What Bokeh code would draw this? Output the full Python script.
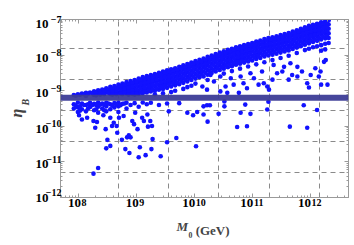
import math
from bokeh.plotting import figure
from bokeh.models import (FixedTicker, LogAxis, Span, Title, ColumnDataSource,
                          CustomJSTickFormatter)
from bokeh.embed import file_html
from bokeh.resources import INLINE

# ---- data (log10 values) ----
# dense region: (log10 M0, [log10 eta_B ...]) per column
dense_cols = [
    (7.92, [-9.12, -9.38, -9.50]),
    (7.99, [-9.10, -9.33, -9.47, -9.60]),
    (8.06, [-9.08, -9.36, -9.52]),
    (8.13, [-9.06, -9.15, -9.40, -9.58]),
    (8.20, [-9.05, -9.34, -9.46]),
    (8.27, [-9.02, -9.12, -9.37, -9.55]),
    (8.34, [-8.99, -9.08, -9.33, -9.45, -9.62]),
    (8.41, [-8.97, -9.06, -9.36, -9.50]),
    (8.48, [-8.93, -9.04, -9.34, -9.44, -9.58]),
    (8.55, [-8.89, -9.00, -9.09, -9.38, -9.52]),
    (8.62, [-8.87, -8.97, -9.07, -9.35, -9.47]),
    (8.69, [-8.83, -8.94, -9.05, -9.33, -9.44, -9.60]),
    (8.76, [-8.80, -8.91, -9.02, -9.10, -9.37]),
    (8.83, [-8.76, -8.87, -8.98, -9.08, -9.34, -9.50]),
    (8.90, [-8.73, -8.84, -8.95, -9.06, -9.40]),
    (8.97, [-8.70, -8.80, -8.92, -9.03, -9.11, -9.35]),
    (9.04, [-8.66, -8.77, -8.88, -9.00, -9.09, -9.45]),
    (9.11, [-8.62, -8.73, -8.85, -8.96, -9.07, -9.33]),
    (9.18, [-8.59, -8.70, -8.82, -8.94, -9.05, -9.38]),
    (9.25, [-8.56, -8.67, -8.78, -8.90, -9.02, -9.34]),
    (9.32, [-8.53, -8.64, -8.75, -8.87, -9.00, -9.10]),
    (9.39, [-8.50, -8.60, -8.72, -8.84, -8.97, -9.40]),
    (9.46, [-8.46, -8.57, -8.69, -8.81, -8.95, -9.07]),
    (9.53, [-8.43, -8.54, -8.66, -8.78, -8.92, -9.36]),
    (9.60, [-8.40, -8.51, -8.63, -8.75, -8.88, -9.04]),
    (9.67, [-8.37, -8.48, -8.60, -8.72, -8.85, -9.00]),
    (9.74, [-8.33, -8.44, -8.56, -8.68, -8.82, -9.35]),
    (9.81, [-8.29, -8.40, -8.52, -8.65, -8.78, -8.95]),
    (9.88, [-8.25, -8.36, -8.48, -8.61, -8.74, -8.90]),
    (9.95, [-8.21, -8.32, -8.44, -8.57, -8.70, -8.86]),
    (10.02, [-8.17, -8.28, -8.40, -8.53, -8.66, -8.80]),
    (10.09, [-8.13, -8.24, -8.36, -8.49, -8.62]),
    (10.16, [-8.10, -8.21, -8.33, -8.46, -8.60]),
    (10.23, [-8.05, -8.17, -8.29, -8.42, -8.55, -8.70]),
    (10.30, [-8.01, -8.12, -8.24, -8.37, -8.50]),
    (10.37, [-7.97, -8.08, -8.20, -8.33, -8.46]),
    (10.44, [-7.93, -8.04, -8.16, -8.29, -8.42]),
    (10.51, [-7.89, -8.00, -8.12, -8.25, -8.38, -8.52]),
    (10.58, [-7.85, -7.96, -8.08, -8.21, -8.34]),
    (10.65, [-7.82, -7.93, -8.05, -8.18, -8.31, -8.45]),
    (10.72, [-7.78, -7.89, -8.01, -8.14, -8.27]),
    (10.79, [-7.75, -7.86, -7.98, -8.11, -8.24, -8.38]),
    (10.86, [-7.72, -7.83, -7.95, -8.08, -8.21]),
    (10.93, [-7.69, -7.80, -7.92, -8.05, -8.18, -8.32]),
    (11.00, [-7.66, -7.77, -7.89, -8.02, -8.15]),
    (11.07, [-7.62, -7.73, -7.85, -7.98, -8.11, -8.26]),
    (11.14, [-7.59, -7.70, -7.82, -7.95, -8.08]),
    (11.21, [-7.55, -7.66, -7.78, -7.91, -8.04, -8.20]),
    (11.28, [-7.52, -7.63, -7.75, -7.88, -8.01]),
    (11.35, [-7.50, -7.61, -7.73, -7.86, -7.99, -8.14]),
    (11.42, [-7.47, -7.58, -7.70, -7.83, -7.96]),
    (11.49, [-7.44, -7.55, -7.67, -7.80, -7.93, -8.08]),
    (11.56, [-7.41, -7.52, -7.64, -7.77, -7.90]),
    (11.63, [-7.38, -7.49, -7.61, -7.74, -7.87, -8.02]),
    (11.70, [-7.34, -7.45, -7.57, -7.70, -7.83]),
    (11.77, [-7.30, -7.41, -7.53, -7.66, -7.79, -7.94]),
    (11.84, [-7.26, -7.37, -7.49, -7.62, -7.75]),
    (11.91, [-7.22, -7.33, -7.45, -7.58, -7.71, -7.86]),
    (11.98, [-7.18, -7.29, -7.41, -7.54, -7.67, -7.82]),
    (12.05, [-7.15, -7.26, -7.38, -7.50, -7.63, -7.78]),
    (12.12, [-7.12, -7.23, -7.35, -7.47, -7.60, -7.75]),
    (12.19, [-7.08, -7.19, -7.31, -7.43, -7.56, -7.72, -7.88]),
    (12.26, [-7.05, -7.16, -7.28, -7.40, -7.53, -7.68, -7.84]),
    (12.32, [-7.03, -7.14, -7.26, -7.39, -7.52, -7.66]),
]
dense_cols2 = [
    (7.955, [-9.14, -9.42]),
    (8.025, [-9.12, -9.44, -9.56]),
    (8.095, [-9.10, -9.40]),
    (8.165, [-9.09, -9.38, -9.50]),
    (8.235, [-9.07, -9.41]),
    (8.305, [-9.05, -9.13, -9.40, -9.52]),
    (8.375, [-9.04, -9.11, -9.39]),
    (8.445, [-9.01, -9.10, -9.40, -9.55]),
    (8.515, [-8.97, -9.06, -9.36]),
    (8.585, [-8.94, -9.03, -9.11, -9.42]),
    (8.655, [-8.91, -9.01, -9.10, -9.38]),
    (8.725, [-8.87, -8.98, -9.08, -9.41]),
    (8.795, [-8.84, -8.95, -9.05, -9.36]),
    (8.865, [-8.81, -8.92, -9.02, -9.11]),
    (8.935, [-8.78, -8.89, -9.00, -9.09]),
    (9.005, [-8.74, -8.85, -8.97, -9.08]),
    (9.075, [-8.70, -8.81, -8.93, -9.05]),
    (9.145, [-8.66, -8.78, -8.90, -9.02]),
    (9.215, [-8.63, -8.75, -8.87, -8.99]),
    (9.285, [-8.60, -8.72, -8.84, -8.96]),
    (9.355, [-8.57, -8.69, -8.81, -8.93]),
    (9.425, [-8.54, -8.65, -8.77, -8.90]),
    (9.495, [-8.50, -8.62, -8.74, -8.86]),
    (9.565, [-8.47, -8.59, -8.71, -8.83]),
    (9.635, [-8.44, -8.56, -8.68, -8.80]),
    (9.705, [-8.41, -8.52, -8.64, -8.77]),
    (9.775, [-8.37, -8.48, -8.60, -8.73]),
    (9.845, [-8.33, -8.44, -8.56, -8.69]),
    (9.915, [-8.29, -8.40, -8.52, -8.65]),
    (9.985, [-8.25, -8.36, -8.48, -8.61]),
    (10.055, [-8.21, -8.32, -8.44, -8.57]),
    (10.125, [-8.17, -8.29, -8.41, -8.54]),
    (10.195, [-8.13, -8.25, -8.37, -8.50]),
    (10.265, [-8.09, -8.20, -8.32, -8.45]),
    (10.335, [-8.05, -8.16, -8.28, -8.41]),
    (10.405, [-8.01, -8.12, -8.24, -8.37]),
    (10.475, [-7.97, -8.08, -8.20, -8.33]),
    (10.545, [-7.93, -8.04, -8.16, -8.29]),
    (10.615, [-7.89, -8.01, -8.13, -8.26]),
    (10.685, [-7.86, -7.97, -8.09, -8.22]),
    (10.755, [-7.82, -7.94, -8.06, -8.19]),
    (10.825, [-7.79, -7.91, -8.03, -8.16]),
    (10.895, [-7.76, -7.88, -8.00, -8.13]),
    (10.965, [-7.73, -7.85, -7.97, -8.10]),
    (11.035, [-7.70, -7.81, -7.93, -8.06]),
    (11.105, [-7.66, -7.78, -7.90, -8.03]),
    (11.175, [-7.63, -7.74, -7.86, -7.99]),
    (11.245, [-7.59, -7.71, -7.83, -7.96]),
    (11.315, [-7.57, -7.68, -7.80, -7.93]),
    (11.385, [-7.54, -7.66, -7.78, -7.91]),
    (11.455, [-7.51, -7.63, -7.75, -7.88]),
    (11.525, [-7.48, -7.60, -7.72, -7.85]),
    (11.595, [-7.45, -7.57, -7.69, -7.82]),
    (11.665, [-7.42, -7.53, -7.65, -7.78]),
    (11.735, [-7.38, -7.49, -7.61, -7.74]),
    (11.805, [-7.34, -7.45, -7.57, -7.70]),
    (11.875, [-7.30, -7.41, -7.53, -7.66]),
    (11.945, [-7.26, -7.37, -7.49, -7.62]),
    (12.015, [-7.22, -7.34, -7.46, -7.59]),
    (12.085, [-7.19, -7.31, -7.43, -7.56]),
    (12.155, [-7.16, -7.27, -7.39, -7.52]),
    (12.225, [-7.12, -7.24, -7.36, -7.49]),
    (12.29, [-7.10, -7.21, -7.33, -7.46]),
]

# scattered points (log10 M0, log10 eta_B)
sparse_lx = [8.01, 8.06, 8.15, 8.26, 8.29, 8.32, 8.43, 8.47, 8.50, 8.48, 8.55, 8.58,
             8.61, 8.66, 8.67, 8.75, 8.81, 8.84, 8.87, 8.90, 8.88, 8.93, 8.96, 9.02,
             9.04, 9.06, 9.10, 9.13, 9.16, 9.20, 9.24, 9.26, 9.28, 9.42, 9.53, 9.69,
             9.56, 9.88, 9.98, 10.03, 10.05, 8.26, 8.34, 8.55, 8.70, 8.78, 8.98, 9.19,
             9.27,
             10.16, 10.23, 10.16, 10.22, 10.27, 10.42, 10.52, 10.52, 10.74, 10.80,
             10.88, 10.91, 10.97, 11.26, 11.28, 11.65, 11.89, 11.95, 12.12,
             10.14, 10.22, 10.34, 10.45, 10.54, 10.68, 10.77, 10.85, 10.91, 11.03,
             11.11, 11.20, 11.26, 11.29, 11.35, 11.43, 11.52, 11.63, 11.69, 11.78,
             11.86, 11.95, 11.98, 12.01, 12.09, 12.15, 12.19, 12.30, 12.24, 12.27,
             12.18, 11.78, 11.66, 11.55, 11.37, 11.17, 10.97, 10.80, 10.63, 10.45,
             10.28, 10.57]
sparse_ly = [-9.69, -9.81, -9.76, -9.85, -10.04, -9.88, -9.69, -10.08, -10.38, -10.62,
             -10.55, -9.99, -9.90, -9.99, -10.18, -10.38, -10.64, -10.31, -10.25,
             -10.31, -10.75, -9.85, -9.94, -10.08, -10.87, -10.59, -9.76, -9.85,
             -10.81, -10.01, -9.85, -10.64, -10.36, -10.84, -10.45, -10.33, -9.58,
             -9.62, -9.69, -10.56, -9.60, -11.33, -11.17, -9.76, -9.76, -9.71, -9.62,
             -9.67, -9.99,
             -9.44, -9.87, -9.67, -9.41, -9.41, -9.65, -9.30, -9.44, -10.02, -9.62,
             -9.39, -10.00, -9.65, -9.53, -9.31, -10.01, -9.41, -10.04, -9.54,
             -8.88, -8.97, -8.74, -9.02, -8.88, -8.83, -9.06, -8.79, -8.93, -8.65,
             -8.83, -8.79, -8.88, -8.97, -8.69, -8.51, -8.46, -8.69, -8.56, -8.60,
             -8.46, -8.79, -8.91, -8.56, -8.37, -8.60, -8.83, -8.83, -8.19, -8.14,
             -8.46, -8.33, -8.23, -8.33, -8.28, -8.46, -8.51, -8.60, -8.65, -8.60,
             -8.56, -9.06]

eta_obs = 6.3e-10          # observed baryon asymmetry band
x_major = [1e8, 1e9, 1e10, 1e11, 1e12]
y_major = [1e-12, 1e-11, 1e-10, 1e-9, 1e-8, 1e-7]

cols = dense_cols + dense_cols2
lx_all = [c[0] for c in cols for _ in c[1]] + sparse_lx
ly_all = [v for c in cols for v in c[1]] + sparse_ly
src = ColumnDataSource(dict(M0=[10 ** v for v in lx_all], eta=[10 ** v for v in ly_all]))

# ---- figure ----
GRAY = "#9a9a9a"
FONT = "Liberation Serif"
XPX = 57.95   # px per decade (x), used only to nudge label placement
YPX = 36.0    # px per decade (y)

p = figure(width=354, height=245, x_axis_type="log", y_axis_type="log",
           x_range=(4.9e7, 4.6e12), y_range=(1e-12, 1e-7),
           output_backend="svg", toolbar_location=None,
           min_border_left=60, min_border_top=19, min_border_bottom=46, min_border_right=6)
p.background_fill_color = "white"
p.border_fill_color = "white"
p.outline_line_color = GRAY

p.scatter("M0", "eta", source=src, size=4.6, color="#1212ff", line_color=None)

p.add_layout(Span(location=eta_obs, dimension="width", line_color="#3c3c96",
                  line_width=6, line_alpha=0.95))

# grid lines at e^(2k)
p.xgrid.ticker = FixedTicker(ticks=[math.exp(k) for k in (20, 22, 24, 26, 28)])
p.ygrid.ticker = FixedTicker(ticks=[math.exp(-k) for k in (18, 20, 22, 24, 26)])
for g in (p.xgrid, p.ygrid):
    g.grid_line_color = "#8a8a8a"
    g.grid_line_dash = "5 4"
    g.grid_line_width = 1

xminor = [m * 10.0 ** e for e in range(7, 13) for m in range(2, 10)]
yminor = [m * 10.0 ** e for e in range(-13, -7) for m in range(2, 10)]


def tick_axis(ax, ticks, minor):
    ax.ticker = FixedTicker(ticks=ticks, minor_ticks=minor)
    ax.axis_line_color = GRAY
    ax.major_tick_line_color = GRAY
    ax.minor_tick_line_color = GRAY
    ax.major_tick_in = 4
    ax.major_tick_out = 0
    ax.minor_tick_in = 2
    ax.minor_tick_out = 0
    ax.major_label_text_font_size = "1px"
    ax.major_label_text_alpha = 0
    ax.major_label_standoff = 0


def label_axis(ticks, code, size, standoff):
    ax = LogAxis(ticker=FixedTicker(ticks=ticks, minor_ticks=[]),
                 formatter=CustomJSTickFormatter(code=code))
    ax.axis_line_color = None
    ax.major_tick_line_color = None
    ax.minor_tick_line_color = None
    ax.major_tick_in = 0
    ax.major_tick_out = 0
    ax.minor_tick_in = 0
    ax.minor_tick_out = 0
    ax.major_label_text_font = FONT
    ax.major_label_text_font_style = "bold"
    ax.major_label_text_font_size = size
    ax.major_label_text_color = "black"
    ax.major_label_standoff = standoff
    return ax


tick_axis(p.xaxis[0], x_major, xminor)
tick_axis(p.yaxis[0], y_major, yminor)
top = LogAxis()
right = LogAxis()
tick_axis(top, x_major, xminor)
tick_axis(right, y_major, yminor)
p.add_layout(top, "above")
p.add_layout(right, "right")

EXP_X = "return String(Math.round(Math.log10(tick)));"
EXP_Y = "return '\\u2212' + String(-Math.round(Math.log10(tick)));"
TEN = "return '10';"

# x tick labels: exponent (nudged right) then "10" (nudged left)
xe_ticks = [v * 10 ** ((5.5 + (len(str(round(math.log10(v)))) - 1)) / XPX) for v in x_major]
xt_ticks = [v * 10 ** (-(4 + 1.5 * (len(str(round(math.log10(v)))) - 1)) / XPX) for v in x_major]
p.add_layout(label_axis(xe_ticks, EXP_X, "10px", 1), "below")
p.add_layout(label_axis(xt_ticks, TEN, "13px", -10), "below")

# y tick labels: exponent raised, "10" lowered (ends kept inside the range)
ye_sh = [5.0, 2.5, 2.5, 2.5, 2.5, 0.0]
yt_sh = [0.0, -2.5, -2.5, -2.5, -2.5, -5.0]
ye_ticks = [v * 10 ** (s / YPX) for v, s in zip(y_major, ye_sh)]
yt_ticks = [v * 10 ** (s / YPX) for v, s in zip(y_major, yt_sh)]
p.add_layout(label_axis(ye_ticks, EXP_Y, "10px", -1), "left")
p.add_layout(label_axis(yt_ticks, TEN, "13px", -6), "left")

# axis titles
p.add_layout(Title(text="B", text_font=FONT, text_font_style="bold italic",
                   text_font_size="10px", align="left", offset=92,
                   vertical_align="bottom", standoff=4), "left")
p.add_layout(Title(text="\u03b7", text_font=FONT, text_font_style="bold italic",
                   text_font_size="16px", align="left", offset=80,
                   vertical_align="bottom", standoff=-19), "left")
p.add_layout(Title(text="M", text_font=FONT, text_font_style="bold italic",
                   text_font_size="13px", align="left", offset=116,
                   vertical_align="top", standoff=19), "below")
p.add_layout(Title(text="\u2080 (GeV)", text_font=FONT, text_font_style="bold",
                   text_font_size="13px", align="left", offset=128,
                   vertical_align="top", standoff=-45), "below")

open("out.html", "w").write(file_html(p, INLINE))
